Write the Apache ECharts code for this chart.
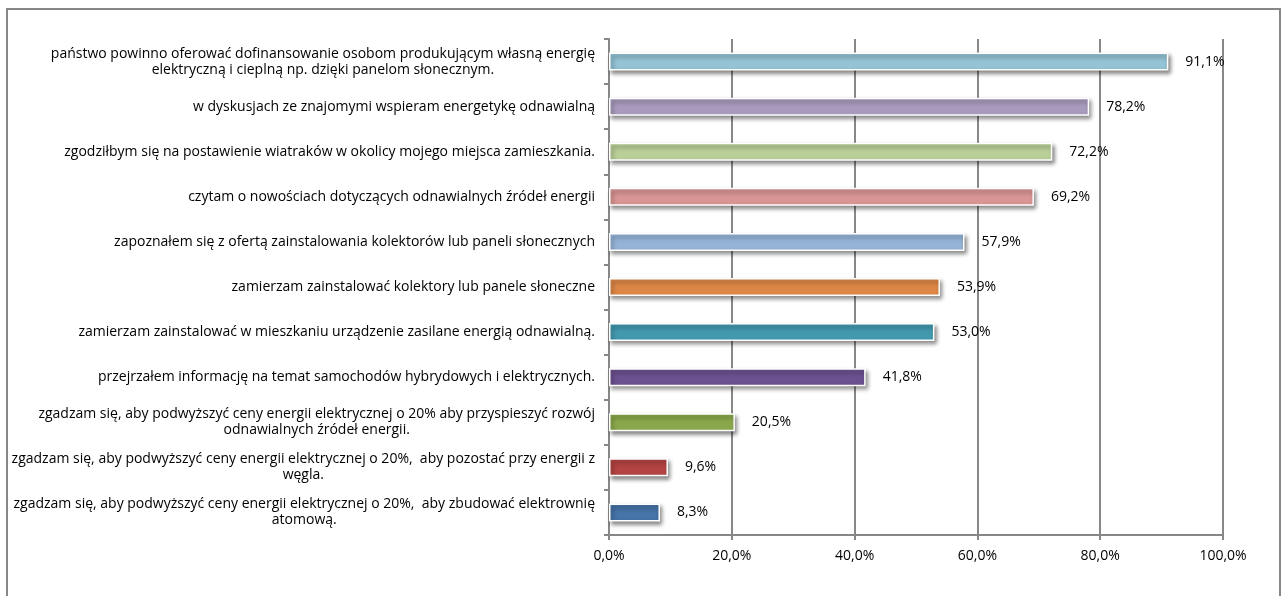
<!DOCTYPE html>
<html>
<head>
<meta charset="utf-8">
<script src="https://cdn.jsdelivr.net/npm/echarts@6/dist/echarts.min.js"></script>
<style>
html,body{margin:0;padding:0;background:#fff;}
#c{width:1283px;height:596px;}
</style>
</head>
<body>
<div id="c"></div>
<script>
// bottom to top
const categories = [
  "zgadzam się, aby podwyższyć ceny energii elektrycznej o 20%,  aby zbudować elektrownię\natomową.",
  "zgadzam się, aby podwyższyć ceny energii elektrycznej o 20%,  aby pozostać przy energii z\nwęgla.",
  "zgadzam się, aby podwyższyć ceny energii elektrycznej o 20% aby przyspieszyć rozwój\nodnawialnych źródeł energii.",
  "przejrzałem informację na temat samochodów hybrydowych i elektrycznych.",
  "zamierzam zainstalować w mieszkaniu urządzenie zasilane energią odnawialną.",
  "zamierzam zainstalować kolektory lub panele słoneczne",
  "zapoznałem się z ofertą zainstalowania kolektorów lub paneli słonecznych",
  "czytam o nowościach dotyczących odnawialnych źródeł energii",
  "zgodziłbym się na postawienie wiatraków w okolicy mojego miejsca zamieszkania.",
  "w dyskusjach ze znajomymi wspieram energetykę odnawialną",
  "państwo powinno oferować dofinansowanie osobom produkującym własną energię\nelektryczną i cieplną np. dzięki panelom słonecznym."
];
const values = [8.3, 9.6, 20.5, 41.8, 53.0, 53.9, 57.9, 69.2, 72.2, 78.2, 91.1];
const barColors = ["#4673A8", "#B34443", "#8AA84B", "#6C5190", "#4299AE", "#DD8747", "#95B3D7", "#D99594", "#BACF98", "#A99BBD", "#93C3D5"];
const xTicks = [0, 20, 40, 60, 80, 100];

const FONT = "Open Sans";
const fmt = v => v.toFixed(1).replace('.', ',') + '%';

const chart = echarts.init(document.getElementById('c'));
chart.setOption({
  animation: false,
  backgroundColor: '#fff',
  textStyle: {fontFamily: FONT},
  graphic: [{
    type: 'rect',
    shape: {x: 7, y: 9, width: 1273, height: 620},
    style: {fill: 'none', stroke: '#878787', lineWidth: 2},
    silent: true
  }],
  grid: {left: 609, right: 60, top: 39, bottom: 61, containLabel: false},
  xAxis: {
    type: 'value',
    min: xTicks[0],
    max: xTicks[xTicks.length - 1],
    interval: 20,
    axisLine: {show: true, lineStyle: {color: '#878787', width: 2}},
    axisTick: {show: true, length: 5, lineStyle: {color: '#878787', width: 2}},
    splitLine: {show: true, lineStyle: {color: '#878787', width: 2}},
    axisLabel: {
      color: '#000', fontSize: 14, fontFamily: FONT, margin: 14,
      formatter: v => fmt(v)
    }
  },
  yAxis: {
    type: 'category',
    data: categories,
    axisLine: {show: true, lineStyle: {color: '#878787', width: 2}},
    axisTick: {show: true, length: 5, lineStyle: {color: '#878787', width: 2}},
    axisLabel: {
      color: '#000', fontSize: 14, fontFamily: FONT, margin: 14,
      interval: 0,
      formatter: v => v.split('\n').map(s => '{c|' + s + '}').join('\n'),
      rich: {c: {align: 'center', fontSize: 14, fontFamily: FONT, lineHeight: 16, color: '#000'}}
    }
  },
  series: [{
    type: 'bar',
    data: values.map((v, i) => ({value: v, itemStyle: {color: barColors[i]}})),
    barWidth: 18,
    itemStyle: {
      borderColor: '#fff', borderWidth: 1.5,
      shadowColor: 'rgba(0,0,0,0.45)', shadowBlur: 4, shadowOffsetX: 2, shadowOffsetY: 3
    },
    label: {
      show: true, position: 'right', distance: 17,
      color: '#000', fontSize: 14, fontFamily: FONT,
      formatter: p => fmt(p.value)
    }
  }]
});
</script>
</body>
</html>
